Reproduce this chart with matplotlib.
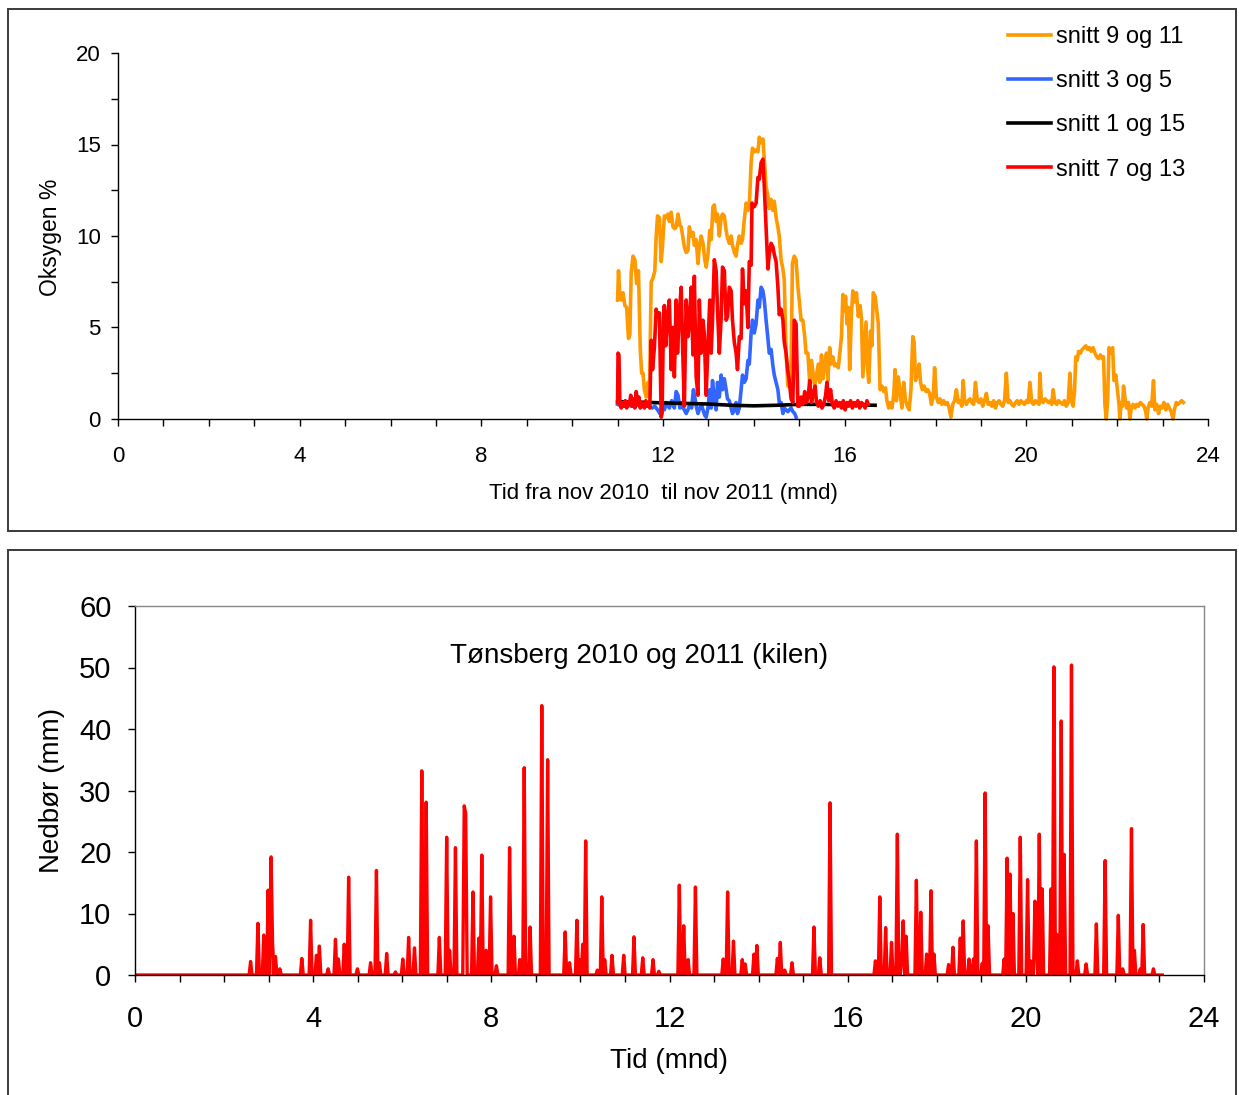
import numpy as np
import matplotlib
matplotlib.use("Agg")
import matplotlib.pyplot as plt
from matplotlib.patches import Rectangle
from matplotlib.ticker import MultipleLocator

plt.rcParams['font.family'] = ['Liberation Sans', 'DejaVu Sans']

# ---------------- oxygen data (month, %) ----------------
orange_t = [11.00, 11.02, 11.05, 11.08, 11.12, 11.16, 11.20, 11.24, 11.27, 11.30, 11.34, 11.38,
            11.42, 11.46, 11.50, 11.53, 11.56, 11.59, 11.63, 11.67, 11.70, 11.74, 11.78, 11.82,
            11.85, 11.88, 11.92, 11.96, 11.99, 12.03, 12.07, 12.11, 12.14, 12.18, 12.22, 12.26,
            12.29, 12.33, 12.37, 12.40, 12.44, 12.47, 12.51, 12.55, 12.58, 12.62, 12.66, 12.69,
            12.73, 12.77, 12.80, 12.84, 12.88, 12.92, 12.95, 12.99, 13.03, 13.06, 13.10, 13.13,
            13.17, 13.20, 13.24, 13.28, 13.31, 13.35, 13.39, 13.42, 13.46, 13.50, 13.53, 13.57,
            13.61, 13.64, 13.68, 13.72, 13.75, 13.79, 13.83, 13.87, 13.90, 13.94, 13.97, 14.01,
            14.05, 14.09, 14.12, 14.16, 14.20, 14.23, 14.27, 14.31, 14.34, 14.38, 14.42, 14.45,
            14.49, 14.53, 14.56, 14.60, 14.64, 14.67, 14.71, 14.75, 14.78, 14.82, 14.85, 14.89,
            14.93, 14.97, 15.00, 15.04, 15.08, 15.12, 15.15, 15.19, 15.23, 15.27, 15.30, 15.34,
            15.38, 15.42, 15.45, 15.49, 15.52, 15.56, 15.60, 15.63, 15.67, 15.70, 15.74, 15.78,
            15.82, 15.86, 15.90, 15.93, 15.96, 15.99, 16.02, 16.05, 16.08, 16.11, 16.15, 16.18,
            16.22, 16.26, 16.30, 16.34, 16.37, 16.40, 16.44, 16.47, 16.50, 16.53, 16.57, 16.60,
            16.63, 16.67, 16.70, 16.74, 16.78, 16.82, 16.86, 16.90, 16.93, 16.97, 17.00, 17.04,
            17.08, 17.11, 17.14, 17.18, 17.22, 17.26, 17.30, 17.34, 17.38, 17.42, 17.46, 17.50,
            17.53, 17.56, 17.60, 17.64, 17.67, 17.71, 17.75, 17.79, 17.83, 17.87, 17.91, 17.95,
            17.98, 18.02, 18.06, 18.10, 18.14, 18.18, 18.22, 18.26, 18.30, 18.34, 18.38, 18.42,
            18.46, 18.50, 18.54, 18.58, 18.61, 18.64, 18.68, 18.72, 18.76, 18.80, 18.84, 18.88,
            18.92, 18.96, 19.00, 19.04, 19.08, 19.12, 19.16, 19.20, 19.24, 19.28, 19.32, 19.36,
            19.40, 19.44, 19.48, 19.52, 19.56, 19.60, 19.64, 19.68, 19.72, 19.76, 19.80, 19.84,
            19.88, 19.92, 19.96, 20.00, 20.04, 20.08, 20.12, 20.16, 20.20, 20.24, 20.28, 20.30,
            20.33, 20.37, 20.41, 20.45, 20.49, 20.53, 20.56, 20.59, 20.63, 20.67, 20.71, 20.75,
            20.80, 20.84, 20.88, 20.92, 20.96, 20.99, 21.03, 21.06, 21.09, 21.12, 21.15, 21.19,
            21.23, 21.27, 21.31, 21.35, 21.39, 21.43, 21.47, 21.51, 21.55, 21.59, 21.63, 21.67,
            21.70, 21.73, 21.76, 21.79, 21.82, 21.86, 21.90, 21.93, 21.97, 22.01, 22.04, 22.06,
            22.09, 22.12, 22.14, 22.18, 22.21, 22.25, 22.28, 22.31, 22.35, 22.39, 22.43, 22.47,
            22.51, 22.55, 22.59, 22.63, 22.65, 22.68, 22.72, 22.76, 22.80, 22.83, 22.87, 22.91,
            22.95, 22.99, 23.03, 23.07, 23.11, 23.15, 23.19, 23.23, 23.26, 23.30, 23.34, 23.38,
            23.42, 23.46]
orange_v = [6.5, 8.1, 6.8, 6.5, 6.9, 6.2, 6.1, 4.4, 4.6, 8.0, 8.9, 8.7,
            7.4, 8.1, 3.8, 2.5, 2.5, 1.6, 1.2, 2.0, 1.2, 7.5, 7.7, 8.1,
            10.0, 11.1, 11.0, 8.6, 9.5, 11.1, 11.0, 11.2, 10.8, 11.3, 10.5, 10.4,
            10.5, 11.2, 10.6, 10.5, 9.9, 9.4, 9.1, 9.2, 10.5, 10.0, 10.2, 9.5,
            9.8, 8.5, 9.4, 10.0, 9.6, 8.7, 8.3, 9.0, 10.3, 9.8, 11.6, 11.7,
            10.8, 11.2, 10.0, 11.0, 11.2, 11.1, 10.3, 9.9, 9.6, 10.0, 9.5, 9.1,
            8.9, 9.5, 10.0, 9.6, 9.8, 10.9, 11.8, 11.4, 11.6, 14.0, 14.8, 14.6,
            14.7, 14.6, 15.4, 15.1, 15.3, 14.2, 12.7, 12.2, 11.5, 12.0, 11.4, 11.9,
            11.0, 10.5, 10.0, 8.7, 8.2, 7.6, 3.6, 1.8, 1.8, 2.6, 8.5, 8.9,
            8.7, 7.2, 6.5, 5.4, 5.4, 4.5, 3.6, 3.6, 2.0, 3.2, 2.6, 1.8,
            2.4, 3.0, 2.0, 3.5, 2.2, 3.0, 3.6, 2.1, 3.9, 3.0, 3.4, 2.9,
            3.0, 2.8, 3.8, 4.5, 6.8, 5.9, 6.7, 5.2, 6.1, 2.7, 5.8, 7.0,
            6.4, 6.9, 5.6, 6.2, 5.5, 2.3, 4.0, 5.3, 2.9, 2.0, 4.8, 4.0,
            6.9, 6.7, 6.1, 5.2, 1.6, 1.8, 1.5, 1.7, 1.0, 0.6, 0.9, 0.6,
            1.3, 2.7, 1.0, 2.3, 1.5, 0.6, 2.0, 1.0, 0.7, 0.5, 1.6, 4.5,
            4.2, 2.1, 2.4, 3.0, 2.0, 1.6, 1.8, 1.5, 1.6, 1.4, 0.8, 1.2,
            2.8, 1.2, 0.9, 1.1, 0.8, 1.0, 0.8, 0.9, 0.6, 0.1, 0.8, 1.0,
            1.6, 0.9, 1.0, 0.7, 2.1, 1.0, 0.8, 1.0, 1.1, 0.9, 0.8, 2.0,
            1.0, 0.9, 1.1, 0.7, 1.0, 1.4, 0.8, 0.9, 0.7, 1.0, 0.6, 0.9,
            1.0, 0.8, 0.7, 1.0, 2.5, 0.9, 1.0, 0.8, 0.7, 0.9, 1.0, 0.8,
            1.0, 0.9, 0.8, 1.0, 0.9, 2.0, 0.9, 0.8, 1.0, 0.9, 0.8, 2.5,
            1.0, 0.9, 1.1, 1.0, 0.9, 1.0, 0.8, 1.6, 0.9, 0.8, 1.0, 0.9,
            0.8, 1.0, 0.7, 0.9, 2.5, 1.0, 0.7, 1.5, 3.4, 3.2, 3.7, 3.6,
            3.8, 3.9, 4.0, 3.8, 3.9, 3.7, 3.9, 3.6, 3.4, 3.3, 3.5, 3.3,
            3.4, 0.8, 0.0, 1.0, 3.9, 3.6, 3.9, 2.1, 2.4, 1.5, 0.8, 0.0,
            0.9, 0.7, 1.8, 1.0, 0.6, 0.9, 0.0, 0.6, 0.8, 0.6, 0.8, 0.7,
            0.9, 0.8, 0.7, 0.4, 0.0, 0.6, 0.9, 0.7, 2.1, 0.5, 0.8, 0.3,
            0.7, 0.6, 0.9, 0.5, 0.8, 0.6, 0.4, 0.0, 0.5, 0.9, 0.8, 0.9,
            1.0, 0.9]

blue_t = [11.00, 11.10, 11.20, 11.30, 11.40, 11.50, 11.60, 11.70, 11.76, 11.82, 11.88, 11.93,
          11.98, 12.03, 12.08, 12.14, 12.19, 12.25, 12.29, 12.33, 12.37, 12.40, 12.44, 12.47,
          12.51, 12.55, 12.59, 12.63, 12.67, 12.70, 12.74, 12.77, 12.81, 12.85, 12.88, 12.92,
          12.95, 12.99, 13.03, 13.06, 13.09, 13.13, 13.17, 13.20, 13.24, 13.28, 13.31, 13.35,
          13.39, 13.42, 13.46, 13.50, 13.53, 13.57, 13.61, 13.64, 13.68, 13.72, 13.75, 13.79,
          13.83, 13.87, 13.90, 13.94, 13.97, 14.01, 14.05, 14.09, 14.12, 14.16, 14.20, 14.23,
          14.27, 14.31, 14.34, 14.38, 14.42, 14.45, 14.49, 14.53, 14.56, 14.60, 14.64, 14.67,
          14.71, 14.75, 14.78, 14.82, 14.86, 14.90, 14.93]
blue_v = [0.8, 0.7, 0.8, 0.7, 0.8, 0.7, 0.8, 0.7, 0.6, 0.7, 0.5, 0.3,
          0.6, 0.5, 0.9, 0.6, 1.0, 0.6, 1.5, 1.3, 0.6, 0.9, 0.6, 0.5,
          0.3, 0.5, 0.8, 0.6, 1.6, 1.2, 0.6, 0.3, 0.6, 0.8, 0.5, 0.2,
          0.1, 0.6, 1.6, 0.6, 2.1, 1.1, 0.5, 2.0, 1.2, 2.4, 1.6, 2.2,
          1.6, 1.1, 1.0, 0.6, 0.3, 0.5, 0.9, 0.3, 0.6, 1.6, 2.4, 2.0,
          2.2, 3.2, 3.0, 4.7, 5.4, 4.7, 5.2, 6.5, 6.1, 7.2, 7.0, 6.5,
          5.4, 4.4, 3.6, 3.8, 2.9, 2.4, 2.0, 1.6, 0.9, 0.9, 0.3, 0.6,
          0.5, 0.4, 0.5, 0.6, 0.4, 0.3, 0.1]

black_t = [11.00, 11.50, 12.00, 12.50, 13.00, 13.50, 14.00, 14.50, 15.00, 15.50, 16.00, 16.67]
black_v = [0.95, 0.92, 0.88, 0.85, 0.82, 0.75, 0.72, 0.75, 0.80, 0.80, 0.78, 0.75]

red_t = [11.00, 11.01, 11.03, 11.05, 11.08, 11.11, 11.14, 11.17, 11.20, 11.23, 11.26, 11.29,
         11.32, 11.35, 11.38, 11.41, 11.44, 11.47, 11.50, 11.53, 11.56, 11.59, 11.62, 11.65,
         11.68, 11.71, 11.74, 11.77, 11.81, 11.85, 11.88, 11.92, 11.96, 11.98, 12.01, 12.03,
         12.06, 12.10, 12.14, 12.18, 12.22, 12.25, 12.29, 12.32, 12.36, 12.40, 12.44, 12.47,
         12.51, 12.55, 12.58, 12.62, 12.66, 12.69, 12.73, 12.77, 12.80, 12.84, 12.88, 12.91,
         12.95, 12.99, 13.03, 13.06, 13.09, 13.13, 13.17, 13.20, 13.24, 13.28, 13.31, 13.35,
         13.39, 13.42, 13.46, 13.50, 13.53, 13.57, 13.61, 13.64, 13.68, 13.72, 13.75, 13.79,
         13.83, 13.87, 13.90, 13.94, 13.96, 14.01, 14.05, 14.09, 14.12, 14.16, 14.20, 14.23,
         14.27, 14.31, 14.34, 14.38, 14.42, 14.45, 14.49, 14.53, 14.56, 14.60, 14.64, 14.67,
         14.71, 14.75, 14.78, 14.82, 14.86, 14.89, 14.93, 14.97, 15.00, 15.04, 15.08, 15.12,
         15.16, 15.20, 15.23, 15.27, 15.31, 15.35, 15.38, 15.42, 15.46, 15.50, 15.54, 15.58,
         15.61, 15.65, 15.69, 15.73, 15.77, 15.81, 15.85, 15.89, 15.93, 15.97, 16.01, 16.05,
         16.09, 16.13, 16.17, 16.21, 16.25, 16.29, 16.33, 16.37, 16.41, 16.45, 16.49, 16.52]
red_v = [0.9, 3.6, 3.5, 0.8, 0.6, 0.9, 0.7, 1.0, 0.6, 0.9, 0.8, 1.3,
         0.7, 1.1, 0.6, 1.5, 0.8, 1.2, 0.6, 0.9, 0.8, 0.6, 1.0, 0.7,
         0.9, 0.6, 4.3, 2.7, 3.9, 6.0, 5.6, 5.8, 0.1, 0.3, 5.5, 6.2,
         4.0, 5.6, 6.5, 2.7, 5.0, 2.3, 6.5, 3.6, 5.8, 7.2, 3.2, 0.7,
         6.5, 4.5, 5.2, 7.2, 3.5, 7.8, 2.3, 1.3, 6.5, 3.6, 5.4, 4.6,
         1.3, 4.0, 6.5, 3.6, 5.4, 8.7, 8.1, 6.0, 3.6, 5.5, 8.3, 8.1,
         5.4, 5.6, 7.2, 7.0, 5.4, 4.2, 3.6, 2.7, 4.5, 4.4, 8.2, 6.3,
         7.0, 5.0, 8.6, 8.4, 11.8, 11.6, 11.8, 13.2, 13.1, 14.0, 14.2, 12.7,
         10.5, 8.2, 9.0, 9.6, 9.4, 9.0, 8.6, 7.2, 5.7, 6.0, 5.4, 4.2,
         3.6, 2.6, 2.1, 1.1, 0.9, 5.4, 5.2, 0.7, 0.7, 1.2, 0.8, 1.5,
         0.9, 1.3, 2.1, 0.9, 1.4, 1.8, 0.9, 0.7, 1.0, 0.6, 0.8, 1.3,
         2.0, 1.0, 1.6, 0.8, 0.6, 1.0, 0.7, 0.9, 0.6, 1.0, 0.5, 0.9,
         0.7, 1.0, 0.6, 0.9, 0.7, 1.0, 0.6, 0.9, 0.8, 0.6, 1.0, 0.8]

# ---------------- rain data (month, mm) ----------------
rain_month = [2.60, 2.77, 2.88, 2.99, 3.05, 3.10, 3.15, 3.25, 3.76, 3.95, 4.08, 4.15,
              4.35, 4.51, 4.58, 4.71, 4.81, 4.99, 5.29, 5.41, 5.50, 5.65, 5.85, 6.01,
              6.13, 6.28, 6.44, 6.53, 6.83, 7.00, 7.05, 7.20, 7.39, 7.43, 7.60, 7.71,
              7.80, 7.89, 7.99, 8.10, 8.42, 8.52, 8.63, 8.74, 8.87, 9.13, 9.26, 9.65,
              9.75, 9.92, 9.98, 10.04, 10.13, 10.37, 10.48, 10.54, 10.72, 10.98, 11.19, 11.39,
              11.62, 11.75, 12.21, 12.33, 12.42, 12.57, 13.20, 13.32, 13.42, 13.64, 13.69, 13.89,
              13.95, 14.42, 14.50, 14.59, 14.74, 15.23, 15.38, 15.59, 16.61, 16.73, 16.85, 17.00,
              17.12, 17.20, 17.25, 17.32, 17.55, 17.65, 17.76, 17.87, 17.95, 18.26, 18.36, 18.52,
              18.61, 18.73, 18.82, 18.90, 19.03, 19.10, 19.16, 19.51, 19.57, 19.64, 19.70, 19.88,
              20.04, 20.11, 20.19, 20.24, 20.29, 20.38, 20.55, 20.64, 20.69, 20.79, 20.87, 21.04,
              21.14, 21.35, 21.58, 21.79, 22.06, 22.17, 22.38, 22.45, 22.56, 22.64, 22.88]
rain_mm = [2.2, 8.4, 6.5, 13.8, 19.2, 5.4, 3.0, 1.0, 2.7, 8.9, 3.2, 4.7,
           1.0, 5.8, 2.6, 5.0, 15.9, 1.0, 2.0, 17.0, 2.0, 3.5, 0.5, 2.6,
           6.1, 4.4, 33.2, 28.1, 6.1, 22.4, 4.0, 20.7, 27.5, 26.3, 13.5, 6.0,
           19.5, 4.0, 12.7, 1.5, 20.7, 6.3, 2.5, 33.7, 7.8, 43.8, 35.0, 7.0,
           2.0, 8.9, 2.5, 5.0, 21.8, 0.8, 12.7, 2.5, 3.2, 3.2, 6.2, 2.8,
           2.5, 0.6, 14.6, 8.0, 2.5, 14.3, 2.6, 13.5, 5.5, 2.5, 1.8, 3.4,
           4.8, 2.7, 5.3, 0.8, 2.0, 7.8, 2.8, 28.0, 2.3, 12.7, 7.7, 5.3,
           22.9, 2.7, 8.8, 6.3, 15.4, 10.2, 3.4, 13.7, 3.4, 1.7, 4.5, 6.0,
           8.8, 2.6, 2.6, 21.8, 1.9, 29.6, 8.0, 2.6, 19.0, 16.4, 10.0, 22.4,
           15.5, 2.3, 12.0, 4.9, 22.9, 14.0, 14.0, 50.1, 6.6, 41.3, 19.6, 50.4,
           2.3, 1.8, 8.3, 18.6, 9.7, 1.0, 23.8, 4.0, 1.0, 8.2, 1.0]
rain_end_month = 23.05
days_per_month = 30.44

# daily series: zero on days without a reading
n_days = int(round(rain_end_month * days_per_month)) + 1
rain_daily = np.zeros(n_days)
for m, v in zip(rain_month, rain_mm):
    i = int(round(m * days_per_month))
    rain_daily[i] = max(rain_daily[i], v)
rain_x = np.arange(n_days) / days_per_month

# ---------------- figure ----------------
W, H = 1239, 1095
fig = plt.figure(figsize=(W / 100, H / 100), dpi=100)


def fx(px):
    return px / W


def fy(py):
    return 1 - py / H


# outer frames around each chart
for top, bottom in [(9, 531), (550, 1110)]:
    fig.add_artist(Rectangle((fx(8), fy(bottom)), fx(1236) - fx(8), fy(top) - fy(bottom),
                             transform=fig.transFigure, fill=False,
                             edgecolor='#3a3a3a', lw=1.4))

# ---- top chart: oxygen ----
ax1 = fig.add_axes([fx(118), fy(419), fx(1208) - fx(118), fy(53) - fy(419)])
lw = 2.6
ax1.plot(orange_t, orange_v, color='#FF9900', lw=lw, label='snitt 9 og 11', clip_on=False)
ax1.plot(blue_t, blue_v, color='#3366FF', lw=lw, label='snitt 3 og 5', clip_on=False)
ax1.plot(black_t, black_v, color='black', lw=lw, label='snitt 1 og 15', clip_on=False)
ax1.plot(red_t, red_v, color='#FF0000', lw=lw, label='snitt 7 og 13', clip_on=False)

ax1.set_xlim(0, 24)
ax1.set_ylim(0, 20)
ax1.xaxis.set_major_locator(MultipleLocator(4))
ax1.xaxis.set_minor_locator(MultipleLocator(1))
ax1.yaxis.set_major_locator(MultipleLocator(5))
ax1.yaxis.set_minor_locator(MultipleLocator(2.5))
ax1.spines['top'].set_visible(False)
ax1.spines['right'].set_visible(False)
for s in ['left', 'bottom']:
    ax1.spines[s].set_linewidth(1.0)
ax1.tick_params(axis='both', which='both', direction='out', length=5, width=1.0)
ax1.tick_params(axis='x', which='major', labelsize=16, pad=14.5)
ax1.tick_params(axis='y', which='major', labelsize=16, pad=7.5)

fig.text(fx(663), fy(493), 'Tid fra nov 2010  til nov 2011 (mnd)', ha='center', va='center', fontsize=16)
fig.text(fx(50), fy(237), 'Oksygen %', ha='center', va='center', rotation=90, fontsize=16.5)

ax1.legend(loc='upper left', bbox_to_anchor=(fx(1008), fy(26)), bbox_transform=fig.transFigure,
           frameon=False, fontsize=17, handlelength=1.8, handletextpad=0.25,
           labelspacing=0.94, borderpad=0, borderaxespad=0)

# ---- bottom chart: rain ----
ax2 = fig.add_axes([fx(135), fy(975), fx(1204) - fx(135), fy(606) - fy(975)])
ax2.plot(rain_x, rain_daily, color='#FF0000', lw=2.4)
ax2.set_xlim(0, 24)
ax2.set_ylim(0, 60)
ax2.xaxis.set_major_locator(MultipleLocator(4))
ax2.xaxis.set_minor_locator(MultipleLocator(1))
ax2.yaxis.set_major_locator(MultipleLocator(10))
ax2.spines['top'].set_color('#888888')
ax2.spines['right'].set_color('#888888')
for s in ax2.spines.values():
    s.set_linewidth(1.0)
ax2.tick_params(axis='both', which='both', direction='out', length=5, width=1.0)
ax2.tick_params(axis='x', which='major', labelsize=21, pad=16.5)
ax2.tick_params(axis='y', which='major', labelsize=21, pad=12)
ax2.text(0.4715, 0.865, 'Tønsberg 2010 og 2011 (kilen)', transform=ax2.transAxes,
         ha='center', va='center', fontsize=20)

fig.text(fx(669), fy(1061), 'Tid (mnd)', ha='center', va='center', fontsize=20)
fig.text(fx(52), fy(790), 'Nedbør (mm)', ha='center', va='center', rotation=90, fontsize=20)

fig.savefig('out.png', dpi=100)
